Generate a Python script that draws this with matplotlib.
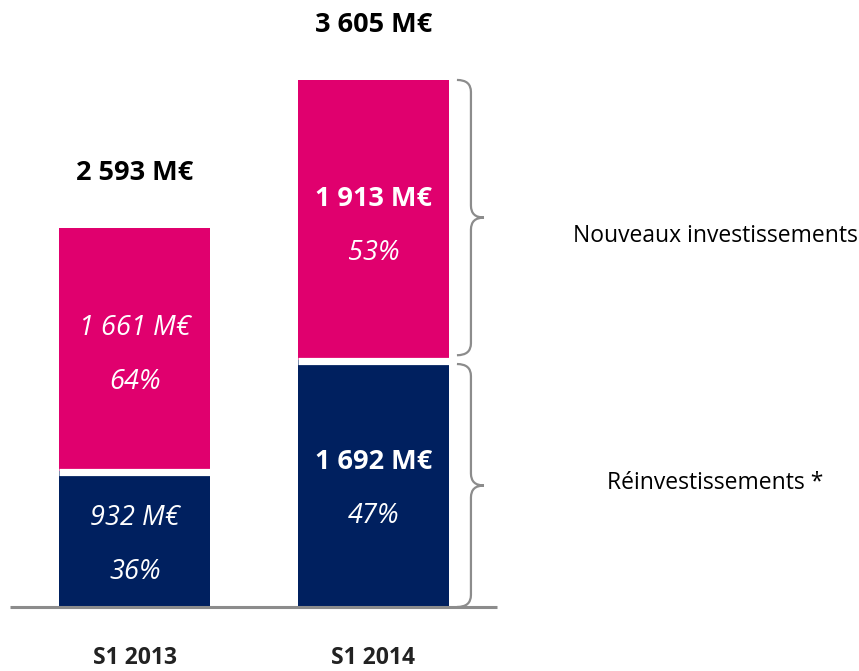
import matplotlib
matplotlib.use("Agg")
import matplotlib.pyplot as plt
from matplotlib.path import Path
from matplotlib.patches import PathPatch

categories = ["S1 2013", "S1 2014"]
reinvest = [932, 1692]
nouveaux = [1661, 1913]
totals = [2593, 3605]
reinvest_pct = ["36%", "47%"]
nouveaux_pct = ["64%", "53%"]
series_names = ["Nouveaux investissements", "Réinvestissements *"]

PINK = "#E0006E"
NAVY = "#00205F"
GRAY = "#8C8C8C"

plt.rcParams['font.family'] = ['Open Sans', 'DejaVu Sans']

W, H = 859, 671
fig = plt.figure(figsize=(W / 100, H / 100), dpi=100)
# axes from x=10..497 px, y=20..607 px (top-origin)
ax = fig.add_axes([10 / W, (H - 607) / H, 487 / W, 587 / H])
ax.set_xlim(-0.524, 1.518)
ax.set_ylim(0, 4015)
ax.axis('off')

x = list(range(len(categories)))
width = 0.633
ax.bar(x, reinvest, width, color=NAVY, zorder=2)
ax.bar(x, nouveaux, width, bottom=reinvest, color=PINK, zorder=2)
# white separator between segments
for xi, r in zip(x, reinvest):
    ax.plot([xi - width / 2, xi + width / 2], [r - 12, r - 12], color="white", lw=5.2, zorder=3,
            solid_capstyle='butt')

# baseline
ax.plot([-0.524, 1.518], [0, 0], color=GRAY, lw=2.2, zorder=4, clip_on=False, solid_capstyle='butt')

pt = 0.72  # points per pixel
fmt = lambda v: f"{v:,}".replace(",", " ") + " M€"

# totals
for xi, t in zip(x, totals):
    ax.annotate(fmt(t), (xi, t), xytext=(0, 55 * pt),
                textcoords='offset points', ha='center', va='center',
                fontsize=19.5, fontweight='bold', color='black')

for i, xi in enumerate(x):
    bold = (i == 1)
    for val, pct, cy in [(nouveaux[i], nouveaux_pct[i], reinvest[i] + nouveaux[i] / 2),
                         (reinvest[i], reinvest_pct[i], reinvest[i] / 2)]:
        ax.annotate(fmt(val), (xi, cy), xytext=(0, (27 - 6) * pt), textcoords='offset points',
                    ha='center', va='center', fontsize=19.5, color='white',
                    fontweight='bold' if bold else 'normal', style='normal' if bold else 'italic')
        ax.annotate(pct, (xi, cy), xytext=(0, (-27 - 6) * pt), textcoords='offset points',
                    ha='center', va='center', fontsize=19.5, color='white', style='italic')
    # category label
    ax.annotate(categories[i], (xi, 0), xytext=(0, -51 * pt), textcoords='offset points',
                ha='center', va='center', fontsize=16.5, fontweight='bold', color='#222222')


def brace(x0, y_bottom, y_top):
    tr = ax.transData
    inv = tr.inverted()
    _, pb = tr.transform((0, y_bottom))
    _, ptop = tr.transform((0, y_top))
    xl, xm, xt = x0, x0 + 14, x0 + 27
    ymid = (pb + ptop) / 2
    r = 12
    verts = [(xl, ptop), (xm, ptop), (xm, ptop - r), (xm, ptop - r - 1),
             (xm, ymid + r), (xm, ymid), (xt, ymid),
             (xm, ymid), (xm, ymid - r),
             (xm, pb + r + 1), (xm, pb + r), (xm, pb), (xl, pb)]
    codes = [Path.MOVETO, Path.CURVE3, Path.CURVE3, Path.LINETO,
             Path.LINETO, Path.CURVE3, Path.CURVE3,
             Path.CURVE3, Path.CURVE3,
             Path.LINETO, Path.LINETO, Path.CURVE3, Path.CURVE3]
    verts = [tuple(inv.transform(v)) for v in verts]
    p = PathPatch(Path(verts, codes), fill=False, edgecolor=GRAY, lw=1.6,
                  transform=ax.transData, clip_on=False, zorder=5)
    ax.add_patch(p)

fig.canvas.draw()
xb_px = ax.transData.transform((x[1] + width / 2, 0))[0] + 8
brace(xb_px, reinvest[1] + 30, totals[1])
brace(xb_px, 0, reinvest[1] - 30)

fig.text(715 / W, 1 - 236 / H, series_names[0], ha='center', va='center', fontsize=16.5, color='black')
fig.text(715 / W, 1 - 483 / H, series_names[1], ha='center', va='center', fontsize=16.5, color='black')

fig.savefig("out.png", dpi=100)
